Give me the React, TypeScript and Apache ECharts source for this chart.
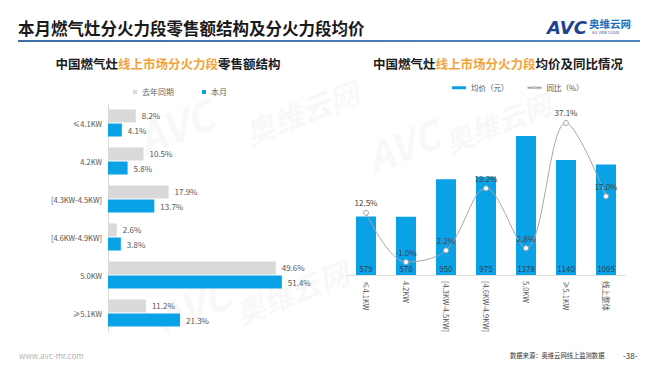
import React, { useEffect, useRef } from "react";
import * as echarts from "echarts";

const leftCategories = ["≤4.1KW", "4.2KW", "[4.3KW-4.5KW]", "[4.6KW-4.9KW]", "5.0KW", "≥5.1KW"];
const lastYearShare = [8.2, 10.5, 17.9, 2.6, 49.6, 11.2];
const thisMonthShare = [4.1, 5.8, 13.7, 3.8, 51.4, 21.3];

const rightCategories = ["≤4.1KW", "4.2KW", "[4.3KW-4.5KW]", "[4.6KW-4.9KW]", "5.0KW", "≥5.1KW", "线上整体"];
const avgPrice = [579, 578, 950, 975, 1378, 1140, 1095];
const yoyChange = [12.5, -1.0, 2.2, 19.2, 2.8, 37.1, 17.0];

const FONT = "'Noto Sans CJK SC', 'Noto Sans', sans-serif";
const BLUE = "#0aa2e6";
const GRAY = "#d9d9d9";
const ORANGE = "#f3a33a";

export default function App() {
  const ref = useRef<HTMLDivElement>(null);
  useEffect(() => {
    if (!ref.current) return;
    const chart = echarts.init(ref.current, undefined, { renderer: "svg" });
    const wm = (x: number, y: number, text: string, size: number) => ({
      type: "text",
      x,
      y,
      rotation: 0.38,
      z: -10,
      silent: true,
      style: {
        text,
        fontSize: size,
        fontWeight: "bold",
        fontStyle: "italic",
        fontFamily: FONT,
        fill: "rgba(200,200,200,0.13)",
      },
    });
    chart.setOption({
      animation: false,
      textStyle: { fontFamily: FONT },
      graphic: [
        wm(130, 120, "AVC", 42),
        wm(240, 120, "奥维云网", 30),
        wm(360, 140, "AVC", 40),
        wm(440, 130, "奥维云网", 28),
        wm(150, 300, "AVC", 40),
        wm(230, 300, "奥维云网", 30),
        {
          type: "text",
          x: 18,
          y: 28,
          style: {
            text: "本月燃气灶分火力段零售额结构及分火力段均价",
            fontSize: 16.5,
            fontWeight: "bold",
            fontFamily: FONT,
            fill: "#1a1a1a",
            verticalAlign: "middle",
          },
        },
        {
          type: "rect",
          shape: { x: 18, y: 40, width: 622, height: 2 },
          style: {
            fill: new echarts.graphic.LinearGradient(0, 0, 1, 0, [
              { offset: 0, color: "#3e6fa6" },
              { offset: 1, color: "#4f86c4" },
            ]),
          },
        },
        {
          type: "text",
          x: 547,
          y: 27,
          style: {
            text: "AVC",
            fontSize: 18,
            fontWeight: "bold",
            fontStyle: "italic",
            fontFamily: "'DejaVu Sans', sans-serif",
            fill: "#1f3f8f",
            verticalAlign: "middle",
          },
        },
        {
          type: "text",
          x: 589,
          y: 23,
          style: {
            text: "奥维云网",
            fontSize: 10.5,
            fontWeight: "bold",
            fontFamily: FONT,
            fill: "#1a6fc0",
            verticalAlign: "middle",
          },
        },
        {
          type: "text",
          x: 592,
          y: 32,
          style: {
            text: "ALL VIEW CLOUD",
            fontSize: 3.5,
            fontFamily: FONT,
            fill: "#1f3f8f",
            verticalAlign: "middle",
          },
        },
        {
          type: "text",
          x: 168,
          y: 63,
          style: {
            text: "{a|中国燃气灶}{b|线上市场分火力段}{a|零售额结构}",
            align: "center",
            verticalAlign: "middle",
            rich: {
              a: { fontSize: 12.5, fontWeight: "bold", fill: "#1a1a1a", fontFamily: FONT },
              b: { fontSize: 12.5, fontWeight: "bold", fill: ORANGE, fontFamily: FONT },
            },
          },
        },
        {
          type: "text",
          x: 498,
          y: 63,
          style: {
            text: "{a|中国燃气灶}{b|线上市场分火力段}{a|均价及同比情况}",
            align: "center",
            verticalAlign: "middle",
            rich: {
              a: { fontSize: 12.5, fontWeight: "bold", fill: "#1a1a1a", fontFamily: FONT },
              b: { fontSize: 12.5, fontWeight: "bold", fill: ORANGE, fontFamily: FONT },
            },
          },
        },
        {
          type: "text",
          x: 19,
          y: 355,
          style: {
            text: "www.avc-mr.com",
            fontSize: 8,
            fontFamily: FONT,
            fill: "#b5b5b5",
            verticalAlign: "middle",
          },
        },
        {
          type: "text",
          x: 510,
          y: 355,
          style: {
            text: "数据来源：奥维云网线上监测数据",
            fontSize: 6.3,
            fontFamily: FONT,
            fill: "#333",
            verticalAlign: "middle",
          },
        },
        {
          type: "text",
          x: 623,
          y: 355,
          style: {
            text: "-38-",
            fontSize: 8,
            fontFamily: FONT,
            fill: "#333",
            verticalAlign: "middle",
          },
        },
      ],
      legend: [
        {
          left: 128,
          top: 83,
          itemWidth: 4,
          itemHeight: 4,
          itemGap: 28,
          icon: "rect",
          textStyle: { fontSize: 8, color: "#666", fontFamily: FONT },
          data: ["去年同期", "本月"],
        },
        {
          left: 447,
          top: 79,
          itemGap: 18,
          textStyle: { fontSize: 7.5, color: "#555", fontFamily: FONT },
          data: [
            { name: "均价（元）", icon: "rect", itemStyle: { color: BLUE } },
            { name: "同比（%）", itemStyle: { color: "#fff", borderColor: "#a6a6a6", borderWidth: 1 } },
          ],
          itemWidth: 14,
          itemHeight: 3,
        },
      ],
      grid: [
        { left: 108, top: 104, width: 186, height: 228 },
        { left: 346, top: 93.4, width: 280, height: 181.6 },
      ],
      xAxis: [
        {
          gridIndex: 0,
          type: "value",
          min: 0,
          max: 55,
          show: false,
        },
        {
          gridIndex: 1,
          type: "category",
          data: rightCategories,
          axisLine: { lineStyle: { color: "#e0e0e0" } },
          axisTick: { show: false },
          axisLabel: {
            rotate: -90,
            fontSize: 7.5,
            color: "#555",
            margin: 6,
            fontFamily: FONT,
          },
        },
      ],
      yAxis: [
        {
          gridIndex: 0,
          type: "category",
          inverse: true,
          data: leftCategories,
          axisLine: { lineStyle: { color: "#d9d9d9" } },
          axisTick: { show: false },
          axisLabel: { fontSize: 7.5, color: "#555", margin: 6, fontFamily: FONT },
        },
        { gridIndex: 1, type: "value", min: 0, max: 1800, show: false },
        { gridIndex: 1, type: "value", min: -4.55, max: 45.2, show: false },
      ],
      series: [
        {
          name: "去年同期",
          type: "bar",
          xAxisIndex: 0,
          yAxisIndex: 0,
          data: lastYearShare,
          barWidth: 13,
          barGap: "8%",
          itemStyle: { color: GRAY },
          label: {
            show: true,
            position: "right",
            distance: 6,
            formatter: "{c}%",
            fontSize: 8,
            color: "#555",
            fontFamily: FONT,
          },
        },
        {
          name: "本月",
          type: "bar",
          xAxisIndex: 0,
          yAxisIndex: 0,
          data: thisMonthShare,
          barWidth: 13,
          barGap: "8%",
          itemStyle: { color: BLUE },
          label: {
            show: true,
            position: "right",
            distance: 6,
            formatter: "{c}%",
            fontSize: 8,
            color: "#555",
            fontFamily: FONT,
          },
        },
        {
          name: "均价（元）",
          type: "bar",
          xAxisIndex: 1,
          yAxisIndex: 1,
          data: avgPrice,
          barWidth: 20,
          itemStyle: { color: BLUE },
          label: {
            show: true,
            position: "insideBottom",
            distance: 3,
            fontSize: 8,
            color: "#2a3d55",
            fontFamily: FONT,
          },
        },
        {
          name: "同比（%）",
          type: "line",
          xAxisIndex: 1,
          yAxisIndex: 2,
          data: yoyChange,
          smooth: 0.35,
          symbol: "circle",
          symbolSize: 5,
          lineStyle: { color: "#a6a6a6", width: 1 },
          itemStyle: { color: "#fff", borderColor: "#a6a6a6", borderWidth: 1 },
          label: {
            show: true,
            position: "top",
            distance: 3,
            formatter: (p: any) => p.value.toFixed(1) + "%",
            fontSize: 8,
            color: "#444",
            fontFamily: FONT,
          },
          z: 5,
        },
      ],
    });
    return () => chart.dispose();
  }, []);
  return (
    <div
      ref={ref}
      style={{ position: "fixed", left: 0, top: 0, width: 660, height: 372, background: "#fff" }}
    />
  );
}
